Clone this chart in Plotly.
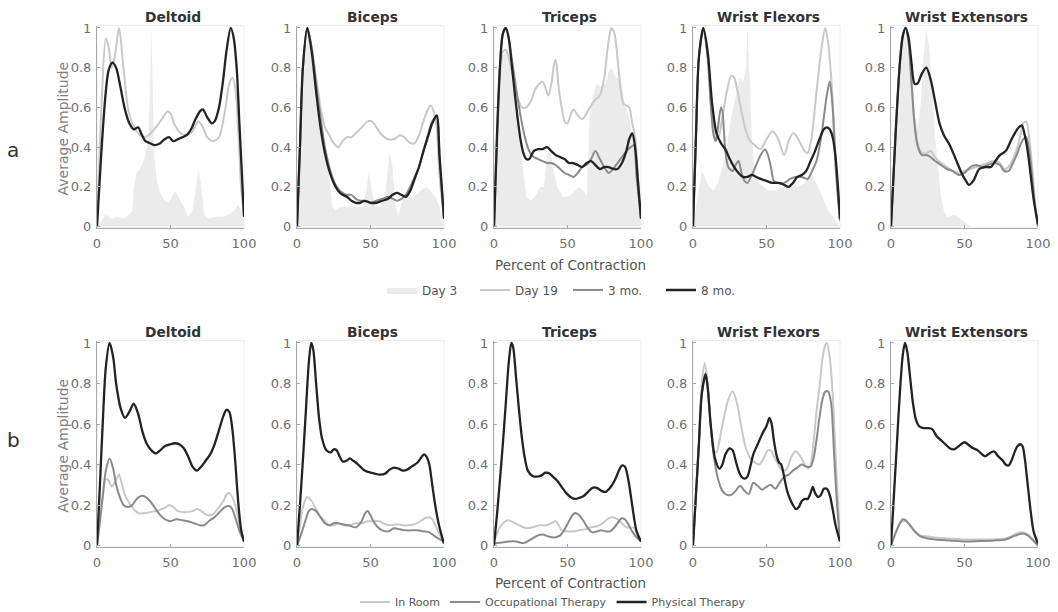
import plotly.graph_objects as go

# ---------------- DATA ----------------
MUSCLES = ["Deltoid", "Biceps", "Triceps", "Wrist Flexors", "Wrist Extensors"]
LEGEND_A = ["Day 3", "Day 19", "3 mo.", "8 mo."]
LEGEND_B = ["In Room", "Occupational Therapy", "Physical Therapy"]
X_TICKS = [0, 50, 100]
Y_TICKS = [0, 0.2, 0.4, 0.6, 0.8, 1]
Y_TICK_TEXT = ["0", "0.2", "0.4", "0.6", "0.8", "1"]

# ---- Row a: Deltoid ----
a_del_day3_x = [0, 3, 6, 10, 14, 18, 22, 24, 25, 27, 30, 33, 35, 36, 37, 38, 39, 41, 43, 46, 49, 51, 53, 56, 59, 62, 65, 67, 69, 71, 73, 76, 80, 85, 90, 93, 96, 98, 100]
a_del_day3_y = [0, 0.03, 0.06, 0.04, 0.05, 0.04, 0.06, 0.08, 0.2, 0.27, 0.3, 0.36, 0.45, 0.7, 1.0, 0.65, 0.35, 0.22, 0.17, 0.13, 0.12, 0.15, 0.18, 0.14, 0.1, 0.05, 0.08, 0.18, 0.29, 0.2, 0.06, 0.04, 0.05, 0.05, 0.06, 0.08, 0.11, 0.08, 0]
a_del_day19_x = [0, 3, 6, 8, 10, 12, 15, 18, 21, 24, 28, 32, 35, 40, 44, 48, 50, 53, 57, 61, 65, 69, 72, 75, 79, 83, 87, 90, 92, 94, 96, 98, 100]
a_del_day19_y = [0, 0.6, 0.95, 0.9, 0.8, 0.85, 1.0, 0.8, 0.6, 0.52, 0.47, 0.45, 0.46, 0.5, 0.54, 0.58, 0.57, 0.51, 0.47, 0.46, 0.48, 0.53, 0.5, 0.45, 0.43, 0.45, 0.58, 0.72, 0.75, 0.7, 0.5, 0.2, 0.05]
a_del_8mo_x = [0, 3, 6, 8, 10.5, 13, 16, 19, 22, 25, 28, 30, 33, 36, 39, 43, 46, 49, 52, 55, 58, 61, 64, 67, 70, 72, 75, 78, 80, 83, 86, 88, 91, 93, 95, 97, 100]
a_del_8mo_y = [0, 0.38, 0.68, 0.79, 0.825, 0.8, 0.7, 0.59, 0.52, 0.49, 0.5, 0.47, 0.43, 0.42, 0.41, 0.42, 0.44, 0.45, 0.43, 0.44, 0.45, 0.46, 0.49, 0.54, 0.58, 0.59, 0.55, 0.52, 0.53, 0.6, 0.75, 0.88, 1.0, 0.95, 0.8, 0.5, 0.05]

# ---- Row a: Biceps ----
a_bic_day3_x = [0, 2, 4, 7, 10, 13, 16, 19, 22, 24, 26, 30, 35, 40, 45, 47, 49, 51, 53, 56, 60, 62, 63, 65, 67, 69, 72, 76, 80, 84, 88, 91, 94, 97, 100]
a_bic_day3_y = [0, 0.3, 0.7, 1.0, 0.85, 0.7, 0.55, 0.4, 0.25, 0.1, 0.08, 0.1, 0.1, 0.1, 0.1, 0.18, 0.28, 0.18, 0.1, 0.1, 0.15, 0.3, 0.38, 0.3, 0.1, 0.05, 0.15, 0.15, 0.15, 0.18, 0.2, 0.18, 0.15, 0.1, 0]
a_bic_day19_x = [0, 2, 4, 7, 10, 13, 16, 19, 22, 25, 28, 31, 34, 37, 40, 44, 48, 51, 54, 58, 62, 66, 70, 73, 77, 80, 83, 86, 89, 91, 93, 95, 97, 100]
a_bic_day19_y = [0, 0.4, 0.8, 1.0, 0.9, 0.75, 0.6, 0.5, 0.46, 0.42, 0.4, 0.43, 0.45, 0.45, 0.47, 0.5, 0.53, 0.53, 0.5, 0.46, 0.44, 0.44, 0.46, 0.45, 0.42, 0.42, 0.46, 0.53, 0.59, 0.61, 0.58, 0.5, 0.25, 0.04]
a_bic_3mo_x = [0, 2, 4, 7, 10, 13, 16, 19, 22, 25, 28, 31, 34, 37, 40, 43, 46, 50, 54, 58, 62, 65, 68, 71, 74, 77, 80, 83, 86, 89, 92, 95, 97, 100]
a_bic_3mo_y = [0, 0.4, 0.8, 1.0, 0.9, 0.72, 0.55, 0.4, 0.3, 0.23, 0.19, 0.17, 0.16, 0.16, 0.14, 0.13, 0.13, 0.12, 0.13, 0.14, 0.15, 0.14, 0.13, 0.14, 0.16, 0.2, 0.25, 0.3, 0.38, 0.46, 0.53, 0.55, 0.35, 0.04]
a_bic_8mo_x = [0, 2, 4, 7, 10, 13, 16, 19, 22, 25, 28, 31, 34, 37, 40, 43, 46, 50, 54, 58, 62, 65, 68, 71, 74, 77, 80, 83, 86, 89, 92, 95, 97, 100]
a_bic_8mo_y = [0, 0.4, 0.8, 1.0, 0.88, 0.68, 0.5, 0.37, 0.28, 0.22, 0.18, 0.16, 0.15, 0.13, 0.12, 0.12, 0.13, 0.12, 0.12, 0.13, 0.14, 0.16, 0.17, 0.16, 0.15, 0.18, 0.24, 0.3, 0.38, 0.45, 0.52, 0.56, 0.35, 0.04]

# ---- Row a: Triceps ----
a_tri_day3_x = [0, 3, 5, 8, 11, 14, 17, 20, 22, 25, 28, 31, 34, 36, 38, 40, 43, 47, 50, 54, 58, 61, 63, 65, 67, 70, 73, 76, 78, 80, 83, 86, 89, 92, 95, 98, 100]
a_tri_day3_y = [0, 0.5, 0.85, 0.88, 0.8, 0.65, 0.45, 0.25, 0.15, 0.13, 0.15, 0.2, 0.2, 0.35, 0.43, 0.3, 0.2, 0.15, 0.15, 0.17, 0.2, 0.18, 0.15, 0.55, 0.65, 0.72, 0.7, 0.72, 0.78, 0.8, 0.75, 0.75, 0.62, 0.55, 0.4, 0.15, 0]
a_tri_day19_x = [0, 2, 4, 6, 8, 10, 13, 16, 19, 22, 25, 28, 31, 33, 35, 37, 39, 41, 42, 44, 46, 48, 50, 52, 54, 57, 60, 63, 66, 69, 72, 75, 77, 79, 80, 82, 84, 86, 88, 90, 92, 94, 96, 98, 100]
a_tri_day19_y = [0, 0.4, 0.75, 0.88, 0.89, 0.85, 0.75, 0.65, 0.6, 0.6, 0.63, 0.69, 0.72, 0.73, 0.7, 0.66, 0.72, 0.82, 0.84, 0.7, 0.6, 0.53, 0.52, 0.56, 0.59, 0.56, 0.54, 0.57, 0.61, 0.64, 0.66, 0.75, 0.88, 0.98, 1.0, 0.97, 0.85, 0.7, 0.62, 0.61, 0.6, 0.52, 0.45, 0.25, 0.04]
a_tri_3mo_x = [0, 2, 4, 6, 8, 10, 12, 15, 18, 21, 24, 27, 30, 33, 36, 39, 42, 45, 48, 51, 54, 57, 60, 63, 66, 69, 72, 75, 78, 81, 84, 87, 90, 93, 95, 97, 100]
a_tri_3mo_y = [0, 0.45, 0.8, 0.97, 1.0, 0.95, 0.85, 0.7, 0.56, 0.45, 0.38, 0.35, 0.34, 0.33, 0.32, 0.32, 0.31, 0.29, 0.27, 0.26, 0.25, 0.27, 0.3, 0.31, 0.34, 0.38, 0.34, 0.3, 0.27, 0.29, 0.32, 0.35, 0.38, 0.4, 0.41, 0.25, 0.04]
a_tri_8mo_x = [0, 2, 4, 6, 8, 10, 12, 14, 16, 18, 20, 22, 24, 27, 30, 33, 36, 39, 42, 45, 48, 51, 54, 57, 60, 63, 66, 69, 72, 75, 78, 81, 84, 87, 90, 92, 94, 96, 98, 100]
a_tri_8mo_y = [0, 0.45, 0.8, 0.97, 1.0, 0.95, 0.82, 0.68, 0.55, 0.44, 0.37, 0.34, 0.34, 0.38, 0.39, 0.39, 0.4, 0.38, 0.36, 0.35, 0.34, 0.32, 0.32, 0.31, 0.3, 0.32, 0.33, 0.31, 0.29, 0.3, 0.3, 0.29, 0.29, 0.32, 0.38, 0.44, 0.47, 0.4, 0.22, 0.04]

# ---- Row a: Wrist Flexors ----
a_wf_day3_x = [0, 2, 4, 6, 8, 11, 14, 17, 20, 23, 26, 29, 32, 34, 36, 37, 38, 40, 42, 45, 48, 52, 56, 60, 64, 68, 72, 76, 80, 84, 88, 92, 96, 100]
a_wf_day3_y = [0, 0.1, 0.2, 0.28, 0.25, 0.2, 0.18, 0.22, 0.3, 0.4, 0.55, 0.65, 0.75, 0.72, 0.8, 1.0, 0.85, 0.45, 0.28, 0.22, 0.2, 0.18, 0.18, 0.2, 0.2, 0.22, 0.2, 0.22, 0.27, 0.22, 0.15, 0.08, 0.04, 0]
a_wf_day19_x = [0, 2, 4, 7, 10, 12, 14, 17, 20, 23, 26, 28, 30, 33, 36, 39, 42, 46, 50, 54, 58, 62, 65, 68, 70, 73, 76, 78, 80, 82, 84, 86, 88, 90, 92, 94, 96, 98, 100]
a_wf_day19_y = [0, 0.45, 0.85, 0.98, 0.85, 0.65, 0.5, 0.44, 0.55, 0.68, 0.76, 0.75, 0.69, 0.58, 0.48, 0.43, 0.41, 0.39, 0.44, 0.48, 0.44, 0.36, 0.43, 0.47, 0.46, 0.42, 0.38, 0.37, 0.42, 0.53, 0.68, 0.81, 0.93, 1.0, 0.92, 0.75, 0.5, 0.2, 0.03]
a_wf_3mo_x = [0, 2, 4, 7, 10, 12, 14, 15.5, 17, 19, 20, 22, 24, 27, 29, 31, 33, 35, 37, 40, 43, 46, 49, 51, 53, 55, 58, 62, 66, 70, 74, 78, 81, 84, 87, 89, 91, 93, 95, 97, 100]
a_wf_3mo_y = [0, 0.45, 0.85, 1.0, 0.85, 0.62, 0.46, 0.43, 0.5, 0.6, 0.58, 0.38, 0.3, 0.28, 0.31, 0.33, 0.27, 0.23, 0.22, 0.26, 0.31, 0.36, 0.39, 0.36, 0.3, 0.23, 0.22, 0.22, 0.24, 0.25, 0.25, 0.24, 0.28, 0.33, 0.44, 0.55, 0.66, 0.73, 0.6, 0.3, 0.03]
a_wf_8mo_x = [0, 2, 4, 7, 10, 13, 16, 19, 22, 25, 28, 31, 34, 37, 40, 43, 46, 50, 54, 58, 62, 65, 68, 71, 74, 77, 80, 83, 86, 89, 91, 93, 95, 97, 100]
a_wf_8mo_y = [0, 0.45, 0.85, 1.0, 0.88, 0.62, 0.47, 0.42, 0.39, 0.34, 0.3, 0.27, 0.25, 0.25, 0.26, 0.25, 0.24, 0.23, 0.22, 0.22, 0.21, 0.2, 0.22, 0.25, 0.26, 0.28, 0.33, 0.38, 0.44, 0.49, 0.5, 0.49, 0.45, 0.35, 0.04]

# ---- Row a: Wrist Extensors ----
a_we_day3_x = [0, 3, 6, 9, 12, 15, 18, 20, 22, 24, 26, 28, 30, 32, 34, 36, 38, 40, 43, 46, 49, 52, 55, 60, 100]
a_we_day3_y = [0, 0.35, 0.75, 1.0, 0.85, 0.6, 0.5, 0.6, 0.85, 1.0, 0.9, 0.7, 0.45, 0.3, 0.15, 0.08, 0.05, 0.05, 0.06, 0.05, 0.03, 0.01, 0, 0, 0]
a_we_day19_x = [0, 3, 6, 8, 10, 12, 14, 16, 18, 21, 24, 27, 30, 34, 38, 42, 46, 50, 54, 58, 62, 66, 70, 74, 77, 80, 83, 86, 88, 90, 92, 94, 96, 98, 100]
a_we_day19_y = [0, 0.45, 0.82, 0.96, 1.0, 0.92, 0.72, 0.52, 0.42, 0.37, 0.37, 0.38, 0.35, 0.32, 0.3, 0.28, 0.27, 0.28, 0.29, 0.3, 0.31, 0.32, 0.33, 0.32, 0.29, 0.3, 0.34, 0.4, 0.46, 0.52, 0.53, 0.45, 0.3, 0.12, 0]
a_we_3mo_x = [0, 3, 6, 8, 10, 12, 14, 16, 18, 21, 24, 27, 30, 34, 38, 42, 46, 50, 54, 58, 62, 66, 70, 74, 77, 80, 83, 86, 88, 90, 92, 94, 96, 98, 100]
a_we_3mo_y = [0, 0.45, 0.82, 0.96, 1.0, 0.92, 0.72, 0.52, 0.41, 0.36, 0.36, 0.35, 0.33, 0.31, 0.29, 0.28, 0.26, 0.27, 0.3, 0.31, 0.3, 0.31, 0.32, 0.31, 0.28, 0.28, 0.32, 0.37, 0.41, 0.44, 0.45, 0.38, 0.25, 0.1, 0]
a_we_8mo_x = [0, 3, 6, 8, 10, 12, 14, 16, 18, 21, 24, 27, 30, 33, 36, 40, 44, 48, 51, 53, 56, 60, 64, 68, 71, 74, 78, 82, 85, 87, 89, 91, 93, 95, 97, 100]
a_we_8mo_y = [0, 0.45, 0.82, 0.96, 1.0, 0.95, 0.82, 0.72, 0.72, 0.77, 0.8, 0.74, 0.63, 0.52, 0.46, 0.41, 0.34, 0.27, 0.23, 0.21, 0.23, 0.29, 0.3, 0.3, 0.33, 0.36, 0.38, 0.44, 0.48, 0.5, 0.51, 0.46, 0.38, 0.26, 0.14, 0.01]

# ---- Row b: Deltoid ----
b_del_room_x = [0, 2, 4, 6, 8, 10, 12, 15, 17, 19, 22, 25, 28, 32, 36, 40, 44, 47, 49, 52, 55, 60, 65, 68, 71, 75, 79, 83, 86, 88, 90, 92, 94, 96, 98, 100]
b_del_room_y = [0, 0.12, 0.25, 0.33, 0.32, 0.29, 0.31, 0.35, 0.3, 0.25, 0.21, 0.18, 0.16, 0.16, 0.165, 0.17, 0.18, 0.19, 0.2, 0.19, 0.17, 0.165, 0.17, 0.18, 0.17, 0.15, 0.155, 0.19, 0.22, 0.25, 0.26, 0.24, 0.2, 0.14, 0.07, 0.02]
b_del_ot_x = [0, 2, 4, 6, 8.6, 11, 13, 16, 18, 21, 24, 27, 30, 33, 36, 39, 43, 46, 50, 54, 58, 62, 66, 70, 73, 76, 80, 84, 87, 90, 92, 94, 97, 100]
b_del_ot_y = [0, 0.12, 0.25, 0.37, 0.43, 0.38, 0.3, 0.23, 0.2, 0.19, 0.2, 0.23, 0.245, 0.24, 0.22, 0.19, 0.15, 0.13, 0.12, 0.13, 0.125, 0.12, 0.11, 0.1, 0.1, 0.12, 0.14, 0.17, 0.19, 0.195, 0.18, 0.14, 0.07, 0.02]
b_del_pt_x = [0, 2, 4, 6, 8.6, 11, 13, 16, 19, 22, 25, 28, 31, 34, 37, 40, 43, 46, 50, 53, 56, 59, 62, 65, 68, 71, 74, 77, 80, 83, 86, 88, 90, 92, 94, 96, 98, 100]
b_del_pt_y = [0, 0.3, 0.62, 0.88, 1.0, 0.93, 0.8, 0.68, 0.63, 0.66, 0.7, 0.65, 0.56, 0.5, 0.47, 0.455, 0.47, 0.49, 0.5, 0.505, 0.5, 0.48, 0.44, 0.39, 0.37, 0.39, 0.42, 0.45, 0.5, 0.57, 0.64, 0.67, 0.66, 0.58, 0.42, 0.22, 0.08, 0.02]

# ---- Row b: Biceps ----
b_bic_room_x = [0, 2, 4, 7, 10, 13, 16, 19, 22, 25, 28, 32, 36, 40, 44, 48, 52, 56, 60, 64, 68, 72, 76, 80, 84, 87, 90, 92, 94, 96, 98, 100]
b_bic_room_y = [0, 0.1, 0.19, 0.24, 0.22, 0.18, 0.14, 0.12, 0.1, 0.1, 0.11, 0.1, 0.1, 0.11, 0.11, 0.12, 0.12, 0.12, 0.105, 0.1, 0.105, 0.1, 0.1, 0.105, 0.12, 0.135, 0.14, 0.13, 0.1, 0.07, 0.04, 0.01]
b_bic_ot_x = [0, 3, 6, 8, 10, 13, 16, 19, 22, 25, 28, 31, 35, 40, 44, 46, 48, 50, 52, 55, 58, 62, 66, 70, 74, 78, 82, 86, 90, 93, 96, 100]
b_bic_ot_y = [0, 0.06, 0.13, 0.17, 0.18, 0.17, 0.14, 0.11, 0.1, 0.11, 0.11, 0.105, 0.1, 0.09, 0.12, 0.155, 0.17, 0.15, 0.12, 0.09, 0.075, 0.07, 0.085, 0.08, 0.075, 0.075, 0.075, 0.07, 0.065, 0.05, 0.035, 0.02]
b_bic_pt_x = [0, 2, 4, 6, 8, 9.7, 11, 13, 15, 17, 20, 23, 25, 27, 29, 31, 34, 36, 38, 40, 43, 46, 50, 53, 56, 60, 63, 66, 69, 72, 75, 78, 82, 85, 86.5, 88, 90, 92, 94, 96, 98, 100]
b_bic_pt_y = [0, 0.2, 0.42, 0.66, 0.9, 1.0, 0.97, 0.8, 0.63, 0.53, 0.47, 0.46, 0.475, 0.47, 0.44, 0.415, 0.42, 0.43, 0.42, 0.41, 0.39, 0.37, 0.36, 0.355, 0.35, 0.355, 0.375, 0.385, 0.38, 0.37, 0.375, 0.39, 0.41, 0.44, 0.45, 0.44, 0.4, 0.3, 0.2, 0.12, 0.06, 0.01]

# ---- Row b: Triceps ----
b_tri_room_x = [0, 4, 7, 9.5, 13, 17, 22, 26, 31, 35.5, 39, 42, 44, 46, 50, 54, 58, 62, 66, 70, 73, 77, 80, 84, 87, 90, 95, 98, 100]
b_tri_room_y = [0.02, 0.09, 0.115, 0.125, 0.115, 0.1, 0.086, 0.09, 0.1, 0.1, 0.11, 0.12, 0.1, 0.075, 0.07, 0.07, 0.075, 0.08, 0.09, 0.095, 0.105, 0.13, 0.14, 0.13, 0.11, 0.09, 0.088, 0.05, 0.02]
b_tri_ot_x = [0, 5, 10, 15, 20, 25, 30, 33, 37, 41, 45, 48, 51, 54, 56, 58, 61, 64, 67, 70, 73, 76, 79, 82, 85, 87, 89, 91, 94, 97, 100]
b_tri_ot_y = [0.01, 0.015, 0.02, 0.02, 0.012, 0.03, 0.05, 0.055, 0.045, 0.04, 0.05, 0.08, 0.12, 0.155, 0.16, 0.15, 0.12, 0.085, 0.065, 0.07, 0.075, 0.07, 0.07, 0.09, 0.12, 0.135, 0.13, 0.11, 0.07, 0.04, 0.02]
b_tri_pt_x = [0, 2, 4, 6, 8, 10, 11.8, 13, 15, 17, 19, 21, 23, 26, 29, 32, 35, 38, 40, 43, 46, 49, 52, 55, 58, 61, 64, 67, 70, 73, 76, 79, 82, 85, 87, 89, 91, 93, 95, 97, 100]
b_tri_pt_y = [0, 0.15, 0.32, 0.5, 0.7, 0.9, 1.0, 0.98, 0.83, 0.67, 0.53, 0.43, 0.37, 0.345, 0.34, 0.345, 0.36, 0.355, 0.34, 0.32, 0.29, 0.26, 0.24, 0.23, 0.235, 0.245, 0.265, 0.285, 0.285, 0.27, 0.265, 0.285, 0.32, 0.37, 0.395, 0.39, 0.34, 0.25, 0.15, 0.07, 0.02]

# ---- Row b: Wrist Flexors ----
b_wf_room_x = [0, 2, 4, 6, 8, 10, 12, 14, 16, 18, 21, 24, 27, 30, 33, 36, 39, 42, 45, 48, 51, 53, 55, 58, 61, 64, 67, 70, 73, 76, 78, 80, 82, 84, 86, 88, 90, 91, 93, 95, 97, 100]
b_wf_room_y = [0, 0.25, 0.5, 0.8, 0.9, 0.8, 0.6, 0.47, 0.46, 0.52, 0.63, 0.72, 0.76, 0.7, 0.58, 0.48, 0.43, 0.41, 0.4, 0.43, 0.47, 0.47, 0.44, 0.4, 0.37, 0.38, 0.44, 0.465, 0.44, 0.4, 0.38, 0.4, 0.51, 0.66, 0.78, 0.92, 0.99, 1.0, 0.93, 0.75, 0.45, 0.03]
b_wf_ot_x = [0, 2, 4, 6, 8.6, 10, 12, 14, 17, 20, 23, 26, 29, 32, 35, 38, 41, 44, 47, 50, 53, 56, 59, 62, 65, 68, 71, 74, 77, 80, 82, 84, 86, 88, 90, 92, 94, 96, 98, 100]
b_wf_ot_y = [0, 0.25, 0.5, 0.75, 0.85, 0.78, 0.6, 0.45, 0.33, 0.27, 0.25, 0.25, 0.27, 0.295, 0.27, 0.255, 0.31, 0.295, 0.275, 0.29, 0.3, 0.28, 0.31, 0.34, 0.35, 0.37, 0.385, 0.4, 0.39, 0.39, 0.43, 0.52, 0.63, 0.72, 0.76, 0.76, 0.7, 0.45, 0.2, 0.03]
b_wf_pt_x = [0, 2, 4, 6, 8.6, 10, 12, 15, 18, 20, 22, 25, 27, 29, 31, 33, 35, 37, 39, 41, 44, 47, 50, 52, 53.5, 55, 57, 58.5, 60, 62, 64, 66, 68, 70, 72, 74, 76, 78, 80, 81.5, 83, 85, 87, 89, 91, 93, 95, 97, 100]
b_wf_pt_y = [0, 0.25, 0.5, 0.75, 0.845, 0.78, 0.6, 0.43, 0.38, 0.4, 0.45, 0.48, 0.47, 0.42, 0.37, 0.34, 0.33, 0.34, 0.39, 0.45, 0.5, 0.55, 0.59, 0.63, 0.6, 0.52, 0.44, 0.41, 0.4, 0.34, 0.27, 0.23, 0.2, 0.18, 0.19, 0.22, 0.23, 0.23, 0.26, 0.29, 0.26, 0.24, 0.25, 0.28, 0.28, 0.25, 0.18, 0.1, 0.02]

# ---- Row b: Wrist Extensors ----
b_we_room_x = [0, 3, 6, 8, 10, 13, 16, 20, 25, 30, 40, 50, 60, 70, 78, 83, 87, 90, 93, 96, 100]
b_we_room_y = [0, 0.06, 0.11, 0.12, 0.12, 0.1, 0.075, 0.05, 0.045, 0.04, 0.035, 0.03, 0.03, 0.03, 0.035, 0.05, 0.065, 0.065, 0.055, 0.035, 0]
b_we_ot_x = [0, 3, 6, 8, 10, 13, 16, 20, 25, 30, 40, 50, 60, 70, 78, 83, 87, 90, 93, 96, 100]
b_we_ot_y = [0, 0.06, 0.11, 0.13, 0.125, 0.1, 0.07, 0.045, 0.035, 0.03, 0.025, 0.02, 0.022, 0.025, 0.03, 0.045, 0.055, 0.06, 0.05, 0.03, 0]
b_we_pt_x = [0, 2, 4, 6, 8, 9.5, 11, 13, 15, 17, 19, 22, 25, 28, 31, 34, 37, 40, 43, 46, 50, 53, 56, 59, 62, 64, 67, 70, 73, 76, 78, 80, 82, 84, 86, 88, 89.5, 91, 93, 95, 97, 100]
b_we_pt_y = [0, 0.25, 0.5, 0.75, 0.94, 1.0, 0.96, 0.83, 0.7, 0.62, 0.59, 0.58, 0.58, 0.575, 0.54, 0.52, 0.5, 0.48, 0.475, 0.49, 0.51, 0.495, 0.48, 0.47, 0.45, 0.44, 0.455, 0.465, 0.44, 0.42, 0.4, 0.395, 0.42, 0.46, 0.49, 0.5, 0.49, 0.43, 0.3, 0.17, 0.07, 0.01]

# ---------------- STYLE ----------------
W, H = 1058, 612
FONT = "DejaVu Sans"
C_FILL = "#ebebeb"
C_LIGHT = "#c8c8c8"
C_MID = "#8a8a8a"
C_DARK = "#232323"
C_AXIS = "#a8a8a8"
C_TICK = "#6e6e6e"

PLOT_LEFT = [97, 297, 494, 693, 891]
PLOT_W = 147
ROW_TOP = [28, 343]      # pixel of y=1
ROW_BOT = [229, 548]     # pixel of y=0
Y_RANGE = [-0.006, 1.012]

# ---------------- FIGURE ----------------
fig = go.Figure()

row_a = [
    [("fill", a_del_day3_x, a_del_day3_y), ("light", a_del_day19_x, a_del_day19_y), ("dark", a_del_8mo_x, a_del_8mo_y)],
    [("fill", a_bic_day3_x, a_bic_day3_y), ("light", a_bic_day19_x, a_bic_day19_y), ("mid", a_bic_3mo_x, a_bic_3mo_y), ("dark", a_bic_8mo_x, a_bic_8mo_y)],
    [("fill", a_tri_day3_x, a_tri_day3_y), ("light", a_tri_day19_x, a_tri_day19_y), ("mid", a_tri_3mo_x, a_tri_3mo_y), ("dark", a_tri_8mo_x, a_tri_8mo_y)],
    [("fill", a_wf_day3_x, a_wf_day3_y), ("light", a_wf_day19_x, a_wf_day19_y), ("mid", a_wf_3mo_x, a_wf_3mo_y), ("dark", a_wf_8mo_x, a_wf_8mo_y)],
    [("fill", a_we_day3_x, a_we_day3_y), ("light", a_we_day19_x, a_we_day19_y), ("mid", a_we_3mo_x, a_we_3mo_y), ("dark", a_we_8mo_x, a_we_8mo_y)],
]
row_b = [
    [("light", b_del_room_x, b_del_room_y), ("mid", b_del_ot_x, b_del_ot_y), ("dark", b_del_pt_x, b_del_pt_y)],
    [("light", b_bic_room_x, b_bic_room_y), ("mid", b_bic_ot_x, b_bic_ot_y), ("dark", b_bic_pt_x, b_bic_pt_y)],
    [("light", b_tri_room_x, b_tri_room_y), ("mid", b_tri_ot_x, b_tri_ot_y), ("dark", b_tri_pt_x, b_tri_pt_y)],
    [("light", b_wf_room_x, b_wf_room_y), ("mid", b_wf_ot_x, b_wf_ot_y), ("dark", b_wf_pt_x, b_wf_pt_y)],
    [("light", b_we_room_x, b_we_room_y), ("mid", b_we_ot_x, b_we_ot_y), ("dark", b_we_pt_x, b_we_pt_y)],
]
names_a = {"fill": LEGEND_A[0], "light": LEGEND_A[1], "mid": LEGEND_A[2], "dark": LEGEND_A[3]}
names_b = {"light": LEGEND_B[0], "mid": LEGEND_B[1], "dark": LEGEND_B[2]}
widths = {"light": 2.0, "mid": 2.0, "dark": 2.3}
colors = {"light": C_LIGHT, "mid": C_MID, "dark": C_DARK}


def px_x(p):
    return p / W


def px_y(p):
    return 1 - p / H


layout_axes = {}
annotations = []
shapes = []
for r, rows in enumerate([row_a, row_b]):
    for c in range(5):
        idx = r * 5 + c + 1
        xn = "x" if idx == 1 else f"x{idx}"
        yn = "y" if idx == 1 else f"y{idx}"
        xk = "xaxis" if idx == 1 else f"xaxis{idx}"
        yk = "yaxis" if idx == 1 else f"yaxis{idx}"
        h = ROW_BOT[r] - ROW_TOP[r]
        top_px = ROW_TOP[r] - (Y_RANGE[1] - 1) * h
        bot_px = ROW_BOT[r] - (0 - Y_RANGE[0]) * h
        layout_axes[xk] = dict(
            domain=[px_x(PLOT_LEFT[c]), px_x(PLOT_LEFT[c] + PLOT_W)], anchor=yn,
            range=[0, 100], tickvals=X_TICKS, ticks="inside", ticklen=3,
            tickcolor=C_AXIS, showline=True, linecolor=C_AXIS, linewidth=1,
            showgrid=False, zeroline=False, automargin=False, ticklabelstandoff=4,
            tickfont=dict(family=FONT, size=13, color=C_TICK), fixedrange=True)
        layout_axes[yk] = dict(
            domain=[px_y(bot_px), px_y(top_px)], anchor=xn,
            range=Y_RANGE, tickvals=Y_TICKS, ticktext=Y_TICK_TEXT, ticks="inside",
            ticklen=3, tickcolor=C_AXIS, showline=True, linecolor=C_AXIS, linewidth=1,
            showgrid=False, zeroline=False, automargin=False, ticklabelstandoff=2,
            tickfont=dict(family=FONT, size=13, color=C_TICK), fixedrange=True)
        shapes.append(dict(type="rect", xref=f"{xn} domain", yref=f"{yn} domain",
                           x0=0, x1=1, y0=0, y1=1, line=dict(color="#ececec", width=1),
                           layer="below"))
        # panel title
        annotations.append(dict(text=f"<b>{MUSCLES[c]}</b>", xref="paper", yref="paper",
                                x=px_x(PLOT_LEFT[c] + PLOT_W / 2 + 2), y=px_y(ROW_TOP[r] - 11),
                                xanchor="center", yanchor="middle", showarrow=False,
                                font=dict(family=FONT, size=13.8, color="#333333")))
        legend_col = 1 if r == 0 else 0
        for kind, xs, ys in rows[c]:
            show = (c == legend_col)
            if r == 0:
                name = names_a[kind]
                lg = "legend"
            else:
                name = names_b[kind]
                lg = "legend2"
            if kind == "fill":
                fig.add_trace(go.Scatter(x=xs, y=ys, mode="lines", fill="tozeroy",
                                         fillcolor=C_FILL, line=dict(width=0, color=C_FILL),
                                         name=name, showlegend=show, legend=lg,
                                         xaxis=xn, yaxis=yn, hoverinfo="skip"))
            else:
                fig.add_trace(go.Scatter(x=xs, y=ys, mode="lines",
                                         line=dict(width=widths[kind], color=colors[kind],
                                                   shape="spline", smoothing=0.8),
                                         name=name, showlegend=show, legend=lg,
                                         xaxis=xn, yaxis=yn, hoverinfo="skip"))

# axis titles and row labels
for r in range(2):
    mid_y = (ROW_TOP[r] + ROW_BOT[r]) / 2
    annotations.append(dict(text="Average Amplitude", xref="paper", yref="paper",
                            x=px_x(62), y=px_y(mid_y), textangle=-90, showarrow=False,
                            xanchor="center", yanchor="middle",
                            font=dict(family=FONT, size=14, color="#808080")))
    annotations.append(dict(text="a" if r == 0 else "b", xref="paper", yref="paper",
                            x=px_x(13), y=px_y(150 if r == 0 else 440), showarrow=False,
                            xanchor="center", yanchor="middle",
                            font=dict(family=FONT, size=20, color="#333333")))
annotations.append(dict(text="Percent of Contraction", xref="paper", yref="paper",
                        x=px_x(570), y=px_y(265), showarrow=False, xanchor="center",
                        yanchor="middle", font=dict(family=FONT, size=13.5, color="#555555")))
annotations.append(dict(text="Percent of Contraction", xref="paper", yref="paper",
                        x=px_x(570), y=px_y(583), showarrow=False, xanchor="center",
                        yanchor="middle", font=dict(family=FONT, size=13.5, color="#555555")))

fig.update_layout(
    width=W, height=H, margin=dict(l=0, r=0, t=0, b=0, pad=0, autoexpand=False),
    paper_bgcolor="white", plot_bgcolor="white",
    annotations=annotations, shapes=shapes,
    legend=dict(orientation="h", x=px_x(568), y=px_y(290), xanchor="center", yanchor="middle",
                font=dict(family=FONT, size=12, color="#555555"), bgcolor="rgba(0,0,0,0)",
                entrywidth=48, entrywidthmode="pixels",
                itemclick=False, itemdoubleclick=False),
    legend2=dict(orientation="h", x=px_x(553), y=px_y(602), xanchor="center", yanchor="middle",
                 font=dict(family=FONT, size=11, color="#555555"), bgcolor="rgba(0,0,0,0)",
                 itemclick=False, itemdoubleclick=False),
    **layout_axes,
)

fig.write_html("out.html", config={"displayModeBar": False},
               post_script="document.body.style.margin='0px';document.body.style.overflow='hidden';")
